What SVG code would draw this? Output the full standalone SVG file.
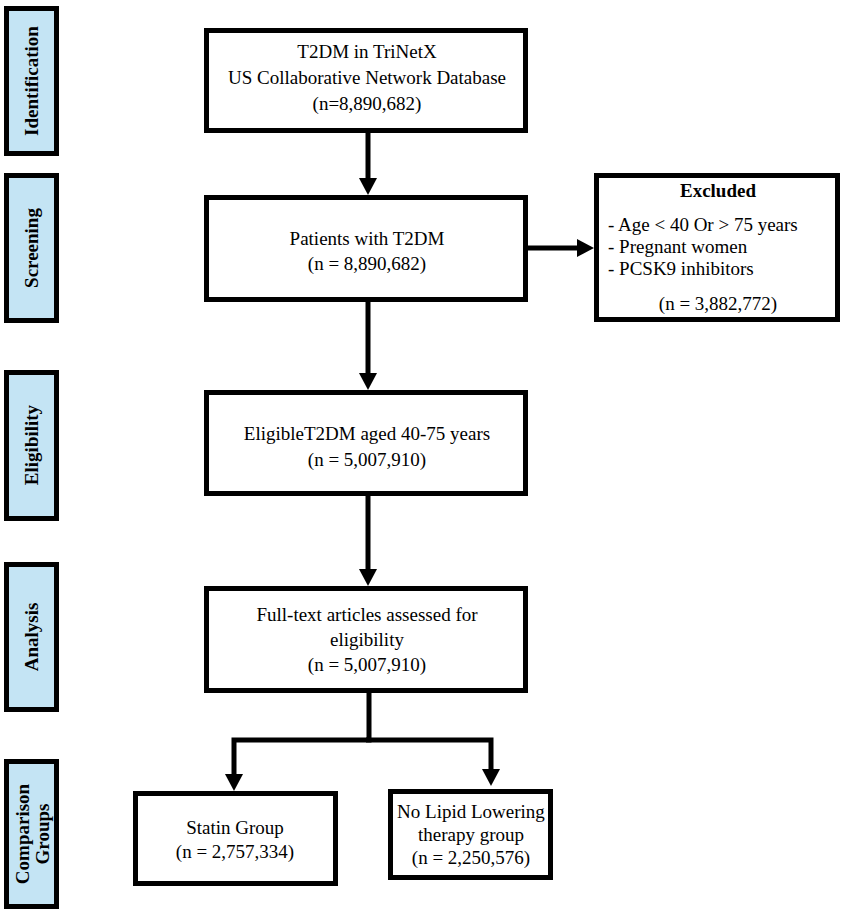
<svg xmlns="http://www.w3.org/2000/svg" width="855" height="910" viewBox="0 0 855 910">
<style>
.box{fill:#fff;stroke:#000;stroke-width:5}
.lab{fill:#C4E4F4;stroke:#000;stroke-width:5}
.t{font-family:"Liberation Serif","Times New Roman",serif;font-size:19px;fill:#000}
.c{text-anchor:middle}
.b{font-weight:bold}
.con{fill:none;stroke:#000;stroke-width:5;stroke-linejoin:miter}
</style>
<defs>
<marker id="ah" markerUnits="userSpaceOnUse" markerWidth="18" markerHeight="18" refX="7" refY="9" orient="auto">
<path d="M0,0 L17,9 L0,18 z" fill="#000"/>
</marker>
</defs>
<rect width="855" height="910" fill="#fff"/>

<g id="stage-identification">
<rect class="lab" x="6.5" y="8.5" width="50" height="145"/>
<text class="t b c" transform="translate(38,81) rotate(-90)">Identification</text>
</g>
<g id="stage-screening">
<rect class="lab" x="6.5" y="175.5" width="50" height="145"/>
<text class="t b c" transform="translate(38,248) rotate(-90)">Screening</text>
</g>
<g id="stage-eligibility">
<rect class="lab" x="6.5" y="372.5" width="50" height="146"/>
<text class="t b c" transform="translate(38,445) rotate(-90)">Eligibility</text>
</g>
<g id="stage-analysis">
<rect class="lab" x="6.5" y="564.5" width="50" height="145"/>
<text class="t b c" transform="translate(38,637) rotate(-90)">Analysis</text>
</g>
<g id="stage-comparison">
<rect class="lab" x="6.5" y="761.5" width="50" height="145"/>
<text class="t b c" transform="translate(33,834) rotate(-90)"><tspan x="0" dy="-4">Comparison</tspan><tspan x="0" dy="20">Groups</tspan></text>
</g>

<g id="connectors">
<path class="con" d="M368,133 V185" marker-end="url(#ah)"/>
<path class="con" d="M368,302 V380" marker-end="url(#ah)"/>
<path class="con" d="M368,496 V576" marker-end="url(#ah)"/>
<path class="con" d="M528,248 H584" marker-end="url(#ah)"/>
<path class="con" d="M369,693 V740 H234 V781" marker-end="url(#ah)"/>
<path class="con" d="M366,740 H491 V776" marker-end="url(#ah)"/>
</g>

<g id="node-database">
<rect class="box" x="206.5" y="30.5" width="319" height="100"/>
<text class="t c" x="367" y="58">T2DM in TriNetX</text>
<text class="t c" x="367" y="84">US Collaborative Network Database</text>
<text class="t c" x="367" y="110">(n=8,890,682)</text>
</g>
<g id="node-patients">
<rect class="box" x="206.5" y="197.5" width="319" height="102"/>
<text class="t c" x="367" y="245">Patients with T2DM</text>
<text class="t c" x="367" y="270">(n = 8,890,682)</text>
</g>
<g id="node-excluded">
<rect class="box" x="596.5" y="175.5" width="241" height="144"/>
<text class="t b c" x="718" y="197">Excluded</text>
<text class="t" x="608" y="231">- Age &lt; 40 Or &gt; 75 years</text>
<text class="t" x="608" y="253">- Pregnant women</text>
<text class="t" x="608" y="275">- PCSK9 inhibitors</text>
<text class="t c" x="718" y="310">(n = 3,882,772)</text>
</g>
<g id="node-eligible">
<rect class="box" x="206.5" y="392.5" width="319" height="101"/>
<text class="t c" x="367" y="440">EligibleT2DM aged 40-75 years</text>
<text class="t c" x="367" y="466">(n = 5,007,910)</text>
</g>
<g id="node-fulltext">
<rect class="box" x="206.5" y="588.5" width="319" height="102"/>
<text class="t c" x="367" y="621">Full-text articles assessed for</text>
<text class="t c" x="367" y="646">eligibility</text>
<text class="t c" x="367" y="671">(n = 5,007,910)</text>
</g>
<g id="node-statin">
<rect class="box" x="135.5" y="793.5" width="200" height="90"/>
<text class="t c" x="235" y="834">Statin Group</text>
<text class="t c" x="235" y="858">(n = 2,757,334)</text>
</g>
<g id="node-nolipid">
<rect class="box" x="390.5" y="791.5" width="160" height="86"/>
<text class="t c" x="471" y="818">No Lipid Lowering</text>
<text class="t c" x="471" y="841">therapy group</text>
<text class="t c" x="471" y="864">(n = 2,250,576)</text>
</g>
</svg>
